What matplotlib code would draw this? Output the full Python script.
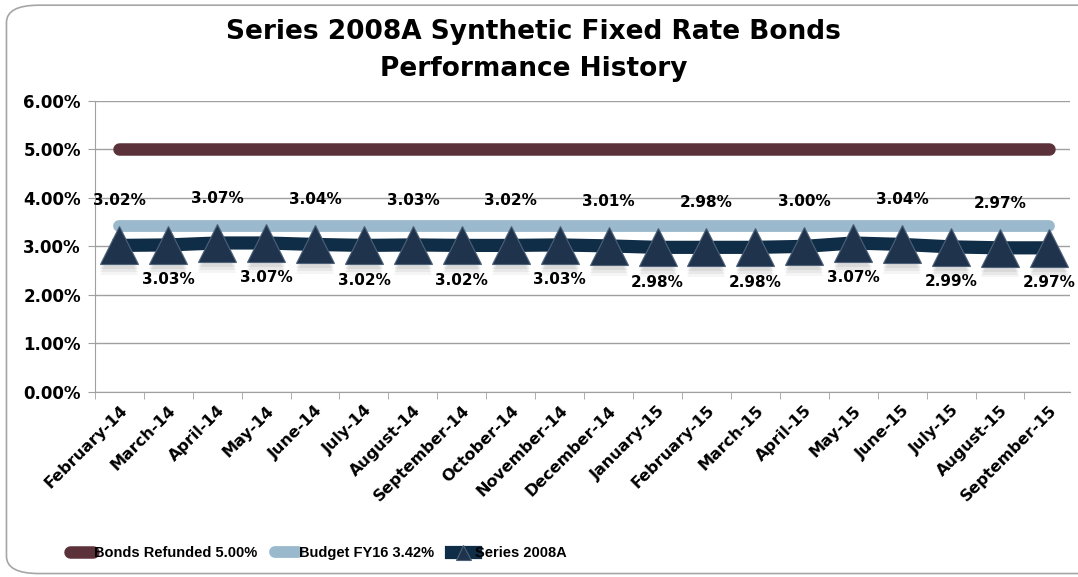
import numpy as np
import matplotlib.pyplot as plt
from matplotlib.patches import FancyBboxPatch

months = ['February-14', 'March-14', 'April-14', 'May-14', 'June-14', 'July-14',
          'August-14', 'September-14', 'October-14', 'November-14', 'December-14',
          'January-15', 'February-15', 'March-15', 'April-15', 'May-15', 'June-15',
          'July-15', 'August-15', 'September-15']
series_2008a = [3.02, 3.03, 3.07, 3.07, 3.04, 3.02, 3.03, 3.02, 3.02, 3.03, 3.01,
                2.98, 2.98, 2.98, 3.00, 3.07, 3.04, 2.99, 2.97, 2.97]
bonds_refunded = [5.00] * len(months)
budget_fy16 = [3.42] * len(months)
yticks = [0, 1, 2, 3, 4, 5, 6]

c_refunded = '#5b3239'
c_budget = '#9bb9cc'
c_series = '#0f2d46'
c_marker = '#1f344c'

plt.rcParams['font.family'] = ['DejaVu Sans']
plt.rcParams['font.weight'] = 'bold'

fig = plt.figure(figsize=(10.78, 5.77), dpi=100)
ax = fig.add_axes([0.088, 0.321, 0.905, 0.504])

# rounded chart border, cut on the right like the source
fig.patches.append(FancyBboxPatch((0.006, 0.006), 1.05, 0.985,
                                  boxstyle='round,pad=0,rounding_size=0.03',
                                  transform=fig.transFigure, fill=False,
                                  edgecolor='#a6a6a6', linewidth=1.2))

x = np.arange(len(months))
ax.plot(x, bonds_refunded, color=c_refunded, lw=9, solid_capstyle='round',
        label='Bonds Refunded 5.00%', zorder=3)
ax.plot(x, budget_fy16, color=c_budget, lw=8.5, solid_capstyle='round',
        label='Budget FY16 3.42%', zorder=3)
# soft marker shadow
for k, a in [(0.10, 0.06), (0.16, 0.05), (0.22, 0.04)]:
    ax.plot(x, np.array(series_2008a) - k, ls='none', marker='^', ms=27,
            color='#000000', alpha=a, markeredgewidth=0, zorder=3)
ax.plot(x, series_2008a, color=c_series, lw=9.5, marker='^', ms=27,
        markerfacecolor=c_marker, markeredgecolor='#4d6178', markeredgewidth=0.8,
        label='Series 2008A', zorder=4)

for i, v in enumerate(series_2008a):
    off = 32 if i % 2 == 0 else -25
    ax.annotate(f'{v:.2f}%', (i, v), xytext=(0, off), textcoords='offset points',
                ha='center', va='center', fontsize=11, fontweight='bold', zorder=5)

ax.set_xlim(-0.5, 19.44)
ax.set_ylim(0, 6)
ax.set_yticks(yticks)
ax.set_yticklabels([f'{t:.2f}%' for t in yticks], fontsize=12, fontweight='bold')
ax.set_xticks(x)
ax.set_xticklabels(months, rotation=45, ha='right', rotation_mode='anchor',
                   fontsize=11.5, fontweight='bold')
ax.set_xticks(np.arange(-0.5, 19.44, 1), minor=True)
ax.tick_params(axis='x', which='major', length=0, pad=8)
ax.tick_params(axis='x', which='minor', length=5, color='#a0a0a0', direction='out')
ax.tick_params(axis='y', length=5, color='#a0a0a0', pad=5)
ax.grid(axis='y', color='#a0a0a0', lw=1)
ax.set_axisbelow(True)
for s in ['top', 'right']:
    ax.spines[s].set_visible(False)
for s in ['left', 'bottom']:
    ax.spines[s].set_color('#a0a0a0')

fig.text(0.495, 0.945, 'Series 2008A Synthetic Fixed Rate Bonds',
         ha='center', va='center', fontsize=19, fontweight='bold')
fig.text(0.495, 0.88, 'Performance History',
         ha='center', va='center', fontsize=19, fontweight='bold')

fig.legend(loc='center left', bbox_to_anchor=(0.058, 0.041), ncol=3, frameon=False,
           prop={'family': ['Liberation Sans'], 'weight': 'bold', 'size': 10.5},
           handlelength=1.6, handletextpad=0.05, columnspacing=1.2,
           markerscale=0.4, borderpad=0)

fig.savefig('out.png', dpi=100)
